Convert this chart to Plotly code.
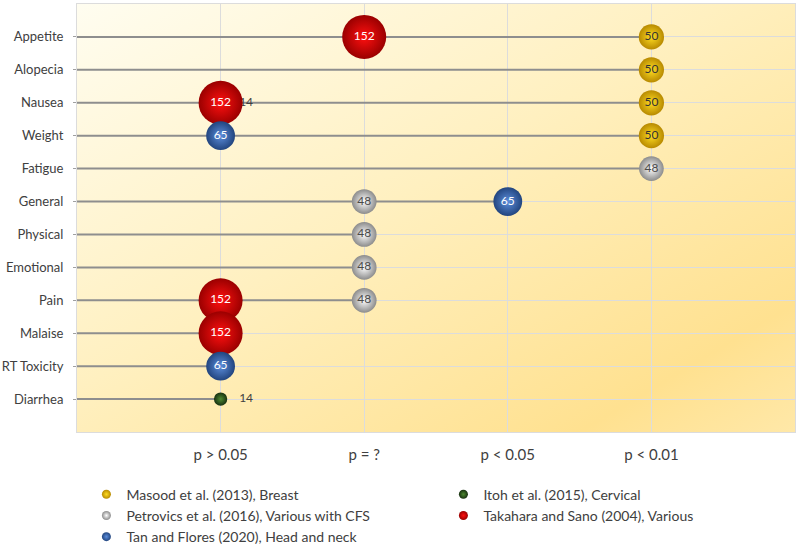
import plotly.graph_objects as go
import urllib.parse

# ---------------- data ----------------
categories = ["Appetite", "Alopecia", "Nausea", "Weight", "Fatigue", "General",
              "Physical", "Emotional", "Pain", "Malaise", "RT Toxicity", "Diarrhea"]
p_levels = ["p > 0.05", "p = ?", "p < 0.05", "p < 0.01"]

series_names = [
    "Masood et al. (2013), Breast",
    "Itoh et al. (2015), Cervical",
    "Petrovics et al. (2016), Various with CFS",
    "Takahara and Sano (2004), Various",
    "Tan and Flores (2020), Head and neck",
]
series_n = [50, 14, 48, 152, 65]

masood_cats = ["Appetite", "Alopecia", "Nausea", "Weight"]
masood_p = ["p < 0.01", "p < 0.01", "p < 0.01", "p < 0.01"]

itoh_cats = ["Nausea", "Diarrhea"]
itoh_p = ["p > 0.05", "p > 0.05"]

petrovics_cats = ["Fatigue", "General", "Physical", "Emotional", "Pain"]
petrovics_p = ["p < 0.01", "p = ?", "p = ?", "p = ?", "p = ?"]

takahara_cats = ["Appetite", "Nausea", "Pain", "Malaise"]
takahara_p = ["p = ?", "p > 0.05", "p > 0.05", "p > 0.05"]

tan_cats = ["Weight", "General", "RT Toxicity"]
tan_p = ["p > 0.05", "p < 0.05", "p > 0.05"]

series_cats = [masood_cats, itoh_cats, petrovics_cats, takahara_cats, tan_cats]
series_p = [masood_p, itoh_p, petrovics_p, takahara_p, tan_p]

# ---------------- styles ----------------
edge_colors = ["#B88A00", "#173010", "#8C8C8C", "#9A0000", "#22457F"]
center_colors = ["#FFDD22", "#4F8A32", "#FFFFFF", "#FF1010", "#5C8EDC"]
text_colors = ["#333333", "#404040", "#4A4A4A", "#FFFFFF", "#FFFFFF"]

FONT = "Lato"
n_cat = len(categories)

def ypos(c):
    return n_cat - 1 - categories.index(c)

def xpos(p):
    return p_levels.index(p)

X_MIN, X_MAX = -1, len(p_levels)
Y_MIN, Y_MAX = -1, n_cat

max_n = max(series_n)
sizeref = 2.0 * max_n / (44 ** 2)

fig = go.Figure()

# connecting lines: from left edge to the farthest bubble in each category
lx, ly = [], []
for c in categories:
    xs = [xpos(p) for cats, ps in zip(series_cats, series_p) for cc, p in zip(cats, ps) if cc == c]
    if xs:
        lx += [X_MIN, max(xs), None]
        ly += [ypos(c), ypos(c), None]
fig.add_trace(go.Scatter(x=lx, y=ly, mode="lines", line=dict(color="#8E8E8E", width=2),
                         hoverinfo="skip", showlegend=False))

# legend-only entries (small markers)
for name, ec, cc in zip(series_names, edge_colors, center_colors):
    fig.add_trace(go.Scatter(x=[None], y=[None], mode="markers", name=name,
                             legendgroup=name,
                             marker=dict(size=9, color=ec, line=dict(width=0),
                                         gradient=dict(type="radial", color=cc))))

# bubbles
for name, n, cats, ps, ec, cc, tc in zip(series_names, series_n, series_cats, series_p,
                                         edge_colors, center_colors, text_colors):
    small = n < 20
    fig.add_trace(go.Scatter(
        x=[xpos(p) for p in ps], y=[ypos(c) for c in cats],
        mode="markers+text", name=name, legendgroup=name, showlegend=False,
        text=[("\u00a0\u00a0\u00a0" + str(n)) if small else str(n) for _ in cats],
        textposition="middle right" if small else "middle center",
        textfont=dict(family=FONT, size=12, color=tc),
        marker=dict(size=[n] * len(cats), sizemode="area", sizeref=sizeref,
                    color=ec, opacity=1, line=dict(width=0),
                    gradient=dict(type="radial", color=cc)),
    ))

# background gradient (SVG)
svg = ("<svg xmlns='http://www.w3.org/2000/svg' viewBox='0 0 100 100' preserveAspectRatio='none'>"
       "<defs><linearGradient id='g' x1='0' y1='0' x2='1' y2='1'>"
       "<stop offset='0' stop-color='#FFFDF0'/>"
       "<stop offset='0.45' stop-color='#FFF0C0'/>"
       "<stop offset='0.85' stop-color='#FFE190'/>"
       "<stop offset='1' stop-color='#FFE8A8'/>"
       "</linearGradient></defs>"
       "<rect width='100' height='100' fill='url(#g)'/></svg>")
src = "data:image/svg+xml;charset=utf-8," + urllib.parse.quote(svg)

fig.update_layout(
    width=800, height=545,
    margin=dict(l=77, r=5, t=4, b=113, autoexpand=False),
    paper_bgcolor="white", plot_bgcolor="rgba(0,0,0,0)",
    font=dict(family=FONT, size=13, color="#404040"),
    images=[dict(source=src, xref="paper", yref="paper", x=0, y=1, sizex=1, sizey=1,
                 sizing="stretch", layer="below", xanchor="left", yanchor="top")],
    xaxis=dict(range=[X_MIN, X_MAX], tickvals=list(range(len(p_levels))), ticktext=p_levels,
               showgrid=True, gridcolor="#DCDCDC", gridwidth=1, zeroline=False,
               showline=True, linecolor="#DCDCDC", mirror=True, automargin=False,
               ticks="outside", ticklen=9, tickcolor="rgba(0,0,0,0)",
               tickfont=dict(size=15, color="#404040")),
    yaxis=dict(range=[Y_MIN, Y_MAX], tickvals=[ypos(c) for c in categories], ticktext=categories,
               showgrid=True, gridcolor="#DCDCDC", gridwidth=1, zeroline=False,
               showline=True, linecolor="#DCDCDC", mirror=True, automargin=False,
               ticks="outside", ticklen=3, tickcolor="#A0A0A0", ticklabelstandoff=7,
               tickfont=dict(size=13, color="#404040")),
    legend=dict(orientation="h", xref="container", yref="container",
                x=0.108, y=0.1217, xanchor="left", yanchor="top",
                entrywidth=312, entrywidthmode="pixels", itemsizing="trace",
                font=dict(size=14, color="#404040"), tracegroupgap=0,
                bgcolor="rgba(0,0,0,0)"),
    showlegend=True,
)

fig.write_html("out.html", config={"displayModeBar": False},
               post_script="document.body.style.margin='0';document.body.style.padding='0';")
